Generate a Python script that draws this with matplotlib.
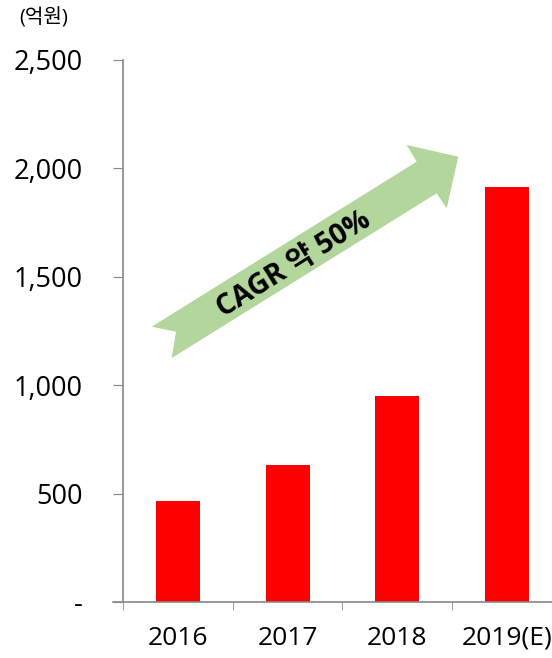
import numpy as np
import matplotlib.pyplot as plt
from matplotlib.patches import Polygon
from matplotlib.ticker import FixedLocator

plt.rcParams['font.family'] = ['Open Sans', 'Noto Sans CJK KR', 'DejaVu Sans']

years = ['2016', '2017', '2018', '2019(E)']
sales = [468, 632, 952, 1912]
y_ticks = [0, 500, 1000, 1500, 2000, 2500]
y_labels = ['-', '500', '1,000', '1,500', '2,000', '2,500']

W, H = 552, 658
fig = plt.figure(figsize=(W / 100, H / 100), dpi=100)
ax = fig.add_axes([123 / W, 1 - 602 / H, (562 - 123) / W, (602 - 60) / H])

x = np.arange(len(years))
ax.bar(x, sales, width=0.4, color='#ff0000')

ax.set_xlim(-0.5, 3.5)
ax.set_ylim(0, 2500)
ax.set_yticks(y_ticks)
ax.set_yticklabels(y_labels, fontsize=19.5)
ax.set_xticks(x)
ax.set_xticklabels(years, fontsize=19)
ax.xaxis.set_minor_locator(FixedLocator(np.arange(-0.5, 4, 1)))
ax.tick_params(axis='x', which='major', length=0, pad=17)
ax.tick_params(axis='x', which='minor', length=6, color='#888888', direction='out')
ax.tick_params(axis='y', length=7, color='#888888', pad=22)

for s in ['top', 'right']:
    ax.spines[s].set_visible(False)
for s in ['left', 'bottom']:
    ax.spines[s].set_color('#888888')
    ax.spines[s].set_linewidth(1.2)
ax.spines['bottom'].set_bounds(-0.59, 3.5)

fig.text(19 / W, 1 - 18 / H, '(억원)', fontsize=14.5, va='center', ha='left')

# 성장 화살표 (픽셀 좌표)
pts = [(151.7, 326.7), (416.7, 161.7), (406.7, 145), (458.3, 156.7),
       (446.7, 208.3), (436.7, 193.3), (171.7, 358), (176, 331.7)]
pts = [(px / W, 1 - py / H) for px, py in pts]
fig.patches.append(Polygon(pts, closed=True, transform=fig.transFigure,
                           facecolor='#b3d69c', edgecolor='none'))
fig.text(294 / W, 1 - 265 / H, 'CAGR 약 50%', fontsize=20.5, fontweight='bold',
         rotation=32, rotation_mode='anchor', ha='center', va='center')

fig.savefig('out.png', dpi=100)
